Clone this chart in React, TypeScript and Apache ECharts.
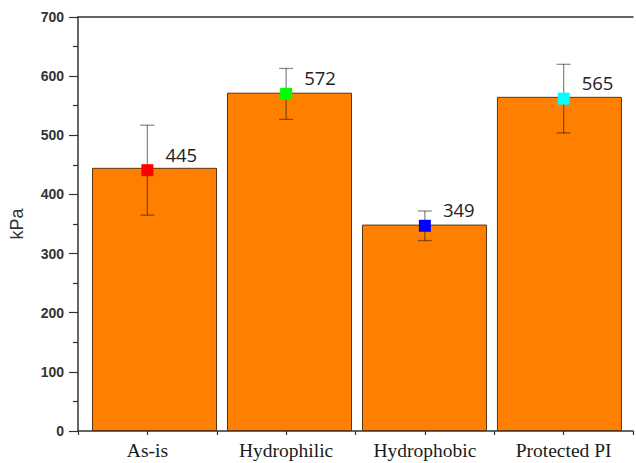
import React, { useEffect, useRef } from "react";
import * as echarts from "echarts";

const categories = ["As-is", "Hydrophilic", "Hydrophobic", "Protected PI"];
const barValues = [445, 572, 349, 565];
const pointX = [1, 2, 3, 4];
const means = [441, 570, 347, 562];
const errors = [76, 43, 25, 58];
const pointColors = ["#ff0000", "#00ff00", "#0000ff", "#00ffff"];
const labels = ["445", "572", "349", "565"];
const yTicks = [0, 100, 200, 300, 400, 500, 600, 700];

export default function App() {
  const ref = useRef<HTMLDivElement>(null);
  useEffect(() => {
    if (!ref.current) return;
    const chart = echarts.init(ref.current, null, { renderer: "svg" });
    const axisColor = "#333";
    chart.setOption({
      animation: false,
      backgroundColor: "#fff",
      grid: { left: 77, right: -3, top: 17, bottom: 32 },
      xAxis: [
        {
          type: "value",
          min: 0.5,
          max: 4.5,
          interval: 0.5,
          position: "bottom",
          axisLine: { show: true, onZero: false, lineStyle: { color: axisColor, width: 1.5 } },
          axisTick: { show: true, inside: false, length: 4, lineStyle: { color: axisColor, width: 1.2 } },
          splitLine: { show: false },
          axisLabel: {
            show: true,
            margin: 9,
            showMinLabel: true,
            showMaxLabel: true,
            fontFamily: "Liberation Serif",
            fontSize: 19.5,
            color: "#1a1a1a",
            formatter: (v: number) =>
              Math.abs(v - Math.round(v)) < 1e-6 && v >= 1 && v <= 4 ? categories[Math.round(v) - 1] : "",
          },
        },
        {
          type: "value",
          min: 0.433,
          max: 4.545,
          position: "top",
          axisLine: { show: true, onZero: false, lineStyle: { color: axisColor, width: 1.5 } },
          axisTick: { show: false },
          axisLabel: { show: false },
          splitLine: { show: false },
        },
      ],
      yAxis: {
        type: "value",
        min: yTicks[0],
        max: yTicks[yTicks.length - 1],
        interval: 100,
        name: "kPa",
        nameLocation: "middle",
        nameGap: 52,
        nameTextStyle: { fontSize: 18, fontFamily: "Liberation Sans", color: "#333" },
        axisLine: { show: true, lineStyle: { color: axisColor, width: 1.5 } },
        axisTick: { show: true, inside: false, length: 9, lineStyle: { color: axisColor, width: 1.2 } },
        minorTick: { show: true, splitNumber: 2, length: 5, lineStyle: { color: axisColor, width: 1.2 } },
        splitLine: { show: false },
        axisLabel: {
          margin: 14,
          fontFamily: "Liberation Sans",
          fontWeight: "bold",
          fontSize: 14,
          color: "#333",
        },
      },
      series: [
        {
          type: "bar",
          xAxisIndex: 1,
          barWidth: 125,
          z: 2,
          itemStyle: { color: "#ff8000", borderColor: "#5a3512", borderWidth: 1 },
          data: barValues.map((v, i) => [i + 1, v]),
        },
        {
          type: "custom",
          xAxisIndex: 0,
          z: 3,
          encode: { x: 0, y: 1 },
          data: pointX.map((x, i) => [x, means[i], errors[i]]),
          renderItem: (params: any, api: any) => {
            const x = api.value(0);
            const y = api.value(1);
            const e = api.value(2);
            const top = api.coord([x, y + e]);
            const bot = api.coord([x, y - e]);
            const hw = 7;
            const style = { stroke: "rgba(0,0,0,0.45)", lineWidth: 1.3 };
            return {
              type: "group",
              children: [
                { type: "line", shape: { x1: top[0], y1: top[1], x2: bot[0], y2: bot[1] }, style },
                { type: "line", shape: { x1: top[0] - hw, y1: top[1], x2: top[0] + hw, y2: top[1] }, style },
                { type: "line", shape: { x1: bot[0] - hw, y1: bot[1], x2: bot[0] + hw, y2: bot[1] }, style },
              ],
            };
          },
        },
        {
          type: "scatter",
          xAxisIndex: 0,
          z: 4,
          symbol: "rect",
          symbolSize: 12,
          data: pointX.map((x, i) => ({
            value: [x, means[i]],
            itemStyle: { color: pointColors[i], opacity: 1 },
          })),
          label: {
            show: true,
            position: "right",
            distance: 12,
            offset: [0, -16],
            fontFamily: "Open Sans",
            fontSize: 18.5,
            color: "#222",
            formatter: (p: any) => labels[p.dataIndex],
          },
        },
      ],
    });
    return () => chart.dispose();
  }, []);
  return (
    <div
      ref={ref}
      style={{ position: "absolute", left: 0, top: 0, width: 636, height: 463 }}
    />
  );
}
